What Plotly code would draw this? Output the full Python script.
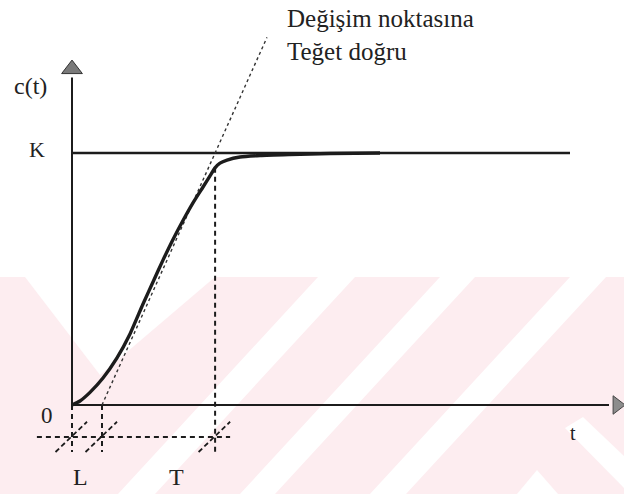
import numpy as np
import plotly.graph_objects as go

# ---- data ----
K = 1.0            # steady-state value
L = 1.0            # dead time
T = 3.77           # time constant (tangent crosses K at L+T)
t_curve = [0, 0.267, 0.6, 1.033, 1.5, 1.933, 2.367, 2.7, 3.033, 3.367, 3.7, 4.033,
           4.367, 4.6, 4.767, 4.933, 5.167, 5.6, 6.267, 7.267, 8.6, 10.267]
c_curve = [0, 0.016, 0.050, 0.107, 0.187, 0.282, 0.401, 0.488, 0.575, 0.657, 0.732, 0.802,
           0.865, 0.909, 0.941, 0.960, 0.972, 0.984, 0.990, 0.994, 0.998, 1.0]
t_k_end = 16.6      # end of the K line
t_axis_end = 17.9   # end of time axis
c_axis_end = 1.30   # end of c(t) axis
t_tan_end = 6.5     # end of tangent line
dim_y = -0.127      # level of dimension line
dim_low = -0.1865   # bottom of extension lines
dim_left, dim_right = -1.17, 5.27

labels = {"c(t)": (-1.4, 1.265, 24), "K": (-1.17, 1.012, 22), "0": (-0.83, -0.04, 23),
          "L": (0.28, -0.285, 24), "T": (3.47, -0.285, 24), "t": (16.7, -0.11, 20)}
note_text = "Değişim noktasına<br>Teğet doğru"

W, H = 624, 494
x_range = [-2.4, 18.4]
y_range = [-89 / 252, 405 / 252]

ink = "#1c1c1c"
serif = "Liberation Serif, Times New Roman, Times, serif"
fig = go.Figure()

# watermark bands (paper coords from pixel geometry)
def P(x, y):
    return f"{x / W:.4f} {1 - y / H:.4f}"

pink = "#fdedf0"
shapes = [dict(type="rect", xref="paper", yref="paper", x0=0, x1=1, y0=0, y1=1 - 277 / H,
               fillcolor=pink, line_width=0, layer="below")]
white_polys = [
    [(25, 277), (215, 277), (100, 375)],
    [(318, 277), (355, 277), (155, 494), (118, 494)],
    [(440, 277), (475, 277), (275, 494), (240, 494)],
    [(570, 277), (606, 277), (406, 494), (370, 494)],
    [(583, 417), (624, 456), (624, 488), (565, 428)],
    [(517, 494), (537, 470), (558, 494)],
]
for poly in white_polys:
    path = "M " + " L ".join(P(x, y) for x, y in poly) + " Z"
    shapes.append(dict(type="path", xref="paper", yref="paper", path=path,
                       fillcolor="white", line_width=0, layer="below"))

def line(x, y, width=2, dash=None, color=ink):
    fig.add_trace(go.Scatter(x=x, y=y, mode="lines", hoverinfo="skip", showlegend=False,
                             line=dict(color=color, width=width, dash=dash)))

# axes
line([0, 0], [0, c_axis_end], 2)
line([0, t_axis_end], [0, 0], 2)
fig.add_trace(go.Scatter(x=[0], y=[1.333], mode="markers", showlegend=False, hoverinfo="skip",
                         marker=dict(symbol="triangle-up", size=18, color="#7a7a7a",
                                     line=dict(color="#333", width=1))))
fig.add_trace(go.Scatter(x=[18.17], y=[0], mode="markers", showlegend=False, hoverinfo="skip",
                         marker=dict(symbol="triangle-right", size=16, color="#8c8c8c",
                                     line=dict(color="#444", width=1))))
# K line
line([0, t_k_end], [K, K], 2.4)
# tangent
slope = K / T
line([L, t_tan_end], [0, slope * (t_tan_end - L)], 1.4, "dot", "#333")
# response curve
fig.add_trace(go.Scatter(x=t_curve, y=c_curve, mode="lines", line_shape="spline",
                         showlegend=False, hoverinfo="skip",
                         line=dict(color=ink, width=3.4, smoothing=0.6)))
# dashed construction lines
c_at_LT = float(np.interp(L + T, t_curve, c_curve))
dash = "5px,4px"
line([0, 0], [0, dim_low], 2, dash)
line([L, L], [0, dim_low], 2, dash)
line([L + T, L + T], [c_at_LT, dim_low], 2, dash)
line([dim_left, dim_right], [dim_y, dim_y], 2, dash)
for xc in [0, L, L + T]:
    line([xc - 0.55, xc + 0.5], [dim_low, dim_low + 0.12], 1.8, "5px,3px")

ann = []
for txt, (x, y, size) in labels.items():
    ann.append(dict(x=x, y=y, text=txt, showarrow=False, xanchor="center", yanchor="middle",
                    font=dict(family=serif, size=size, color="#222")))
ann.append(dict(xref="paper", yref="paper", x=285 / W, y=1 - 3 / H, xanchor="left", yanchor="top",
                align="left", showarrow=False, text=note_text,
                font=dict(family=serif, size=25, color="#222")))

fig.update_layout(width=W, height=H, margin=dict(l=0, r=0, t=0, b=0), autosize=False,
                  paper_bgcolor="white", plot_bgcolor="rgba(0,0,0,0)", shapes=shapes,
                  annotations=ann,
                  xaxis=dict(range=x_range, visible=False, fixedrange=True),
                  yaxis=dict(range=y_range, visible=False, fixedrange=True))
fig.write_html("out.html", config={"displayModeBar": False, "staticPlot": True},
               post_script="document.body.style.margin='0';document.body.style.padding='0';"
                           "document.documentElement.style.overflow='hidden';")
